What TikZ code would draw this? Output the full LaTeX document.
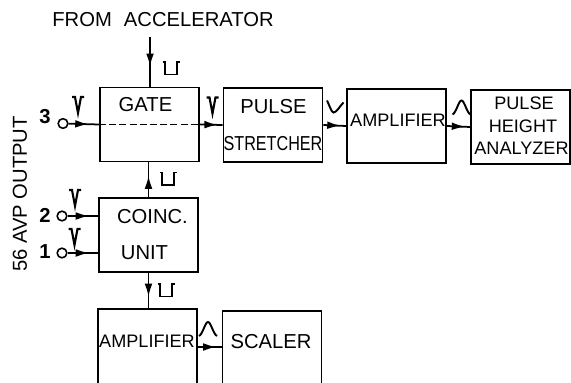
\documentclass[tikz,border=0pt]{standalone}
\usepackage{fontspec}
\setmainfont{Liberation Sans}
\usetikzlibrary{arrows.meta,decorations.markings}
\tikzset{
  blk/.style={draw, line width=1.1pt, inner sep=0pt, minimum width=1.98cm, minimum height=1.48cm},
  txt/.style={font=\fontsize{11.5}{13}\selectfont, inner sep=0pt},
  txtb/.style={font=\fontsize{10.3}{12}\selectfont, inner sep=0pt},
  num/.style={font=\bfseries\fontsize{11.5}{13}\selectfont, inner sep=0pt},
  term/.style={draw, circle, line width=0.9pt, minimum size=5.5pt, inner sep=0pt},
  wire/.style={line width=1pt},
  sig/.style={wire, postaction={decorate}, decoration={markings,
      mark=at position #1 with {\arrow{Latex[length=7.5pt,width=4.4pt]}}}},
  sig/.default=0.65,
  squarepulse/.pic={\draw[line width=1.1pt] (-8.5,-6.5) -- (-6,-6.5) -- (-6,6) -- (6,6) -- (6,-6.5) -- (8.5,-6.5);},
  spike/.pic={\draw[line width=1.2pt] (-6,-8) -- (-3,-8) -- (0,8) -- (3,-8) -- (6,-8);},
  bell/.pic={\draw[line width=1.1pt] (-9,7) .. controls (-5,5) and (-3,-7) .. (0,-7) .. controls (3,-7) and (5,5) .. (9,7);},
  tailpulse/.pic={\draw[line width=1.1pt] (-8.5,-6) .. controls (-6,-1) and (-4,6) .. (-2,6) .. controls (1,6) and (4,0) .. (8,-4);}
}
\begin{document}
\begin{tikzpicture}[x=0.02cm, y=-0.02cm]
    \useasboundingbox (0,0) rectangle (571,382);
    \clip (0,0) rectangle (571,382);

    % Boxes
    \node[blk] (gate) at (149.5,124.5) {};
    \node[blk] (stretcher) at (273,125) {};
    \node[blk] (amp) at (396.5,126) {};
    \node[blk] (analyzer) at (520.5,127) {};
    \node[blk] (coinc) at (148.5,235) {};
    % these two run off the lower edge
    \node[blk, minimum height=1.9cm] (ampb) at (147.5,356.5) {};
    \node[blk, minimum height=1.9cm] (scaler) at (272,358.5) {};

    % Box texts
    \node[txt] (gatetxt) at (145.5,105) {GATE};
    \node[txt] (pulsetxt) at (273.5,107) {PULSE};
    \node[txt] (stretchtxt) at (273,144) {\scalebox{0.8}[1]{STRETCHER}};
    \node[txtb] (amptxt) at (398,120) {AMPLIFIER};
    \node[txtb] (pulsetxtb) at (524,103) {PULSE};
    \node[txtb] (heighttxt) at (523,126) {HEIGHT};
    \node[txtb] (analyzertxt) at (521.5,148) {ANALYZER};
    \node[txt] (coinctxt) at (152.5,217) {COINC.};
    \node[txt] (unittxt) at (144.5,253) {UNIT};
    \node[txtb] (amptxtb) at (147,341) {AMPLIFIER};
    \node[txt] (scalertxt) at (271,342) {SCALER};
    \node[txt] (fromtxt) at (163,20) {FROM\hspace{0.6em}ACCELERATOR};
    \node[txt, rotate=90] (outputtxt) at (20,194) {56 AVP OUTPUT};

    % Inputs
    \node[num] (numc) at (45,117) {3};
    \node[num] (numb) at (45,215) {2};
    \node[num] (numa) at (45,252) {1};
    \node[term] (inc) at (63,123.5) {};
    \node[term] (inb) at (62,216) {};
    \node[term] (ina) at (62,253) {};
    \coordinate (accel) at (150,37);

    % Connectors
    \draw[sig] (inc) -- (gate.west);
    \draw[wire, line width=1.1pt, dash pattern=on 4pt off 1.8pt] (gate.west) -- (gate.east);
    \draw[sig=0.78] (gate.east) -- (stretcher.west);
    \draw[sig=0.75] (stretcher.east) -- (amp.west);
    \draw[sig=0.78] (amp.east) -- (analyzer.west);
    \draw[sig=0.7] (inb) -- (inb -| coinc.west);
    \draw[sig=0.7] (ina) -- (ina -| coinc.west);
    \draw[sig=0.6] (accel) -- (accel |- gate.north);
    \draw[sig=0.62] (coinc.north) -- (gate.south -| coinc.north);
    \draw[sig=0.68] (coinc.south) -- (ampb.north -| coinc.south);
    \draw[sig=0.78] (ampb.east |- 0,347) -- (scaler.west |- 0,347);

    % Pulse shapes
    \pic at (171,68.5) {squarepulse};
    \pic at (168,179) {squarepulse};
    \pic at (166,290.5) {squarepulse};
    \pic at (78,105) {spike};
    \pic at (212.5,105.5) {spike};
    \pic at (75,198) {spike};
    \pic at (74.5,237) {spike};
    \pic at (335.5,106.5) {tailpulse};
    \pic at (461.5,107.5) {bell};
    \pic at (208,329) {bell};
\end{tikzpicture}
\end{document}
